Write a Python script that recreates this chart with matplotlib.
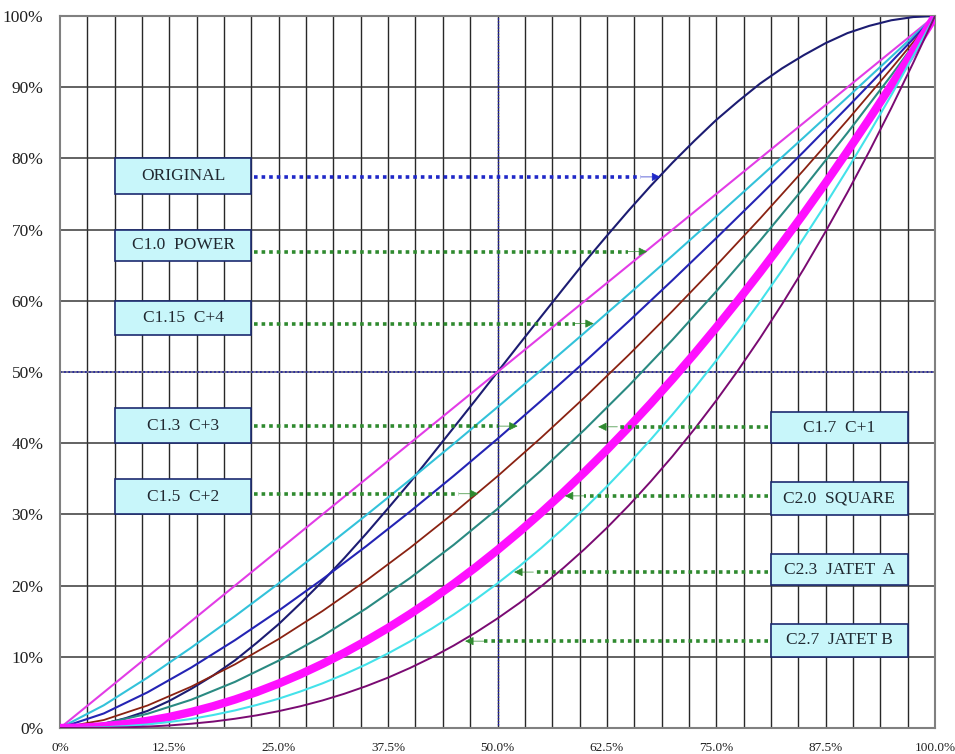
import matplotlib
matplotlib.use("Agg")
import matplotlib.pyplot as plt
from matplotlib.patches import Rectangle

# ---- data (percent) ----
x_pct = [0, 5, 10, 15, 20, 25, 30, 35, 40, 45, 50, 55, 60, 65, 70, 75, 80, 85, 90, 95, 100]
x_fine = [0, 2.5, 5, 7.5, 10, 12.5, 15, 17.5, 20, 22.5, 25, 27.5, 30, 32.5, 35, 37.5, 40, 42.5,
          45, 47.5, 50, 52.5, 55, 57.5, 60, 62.5, 65, 67.5, 70, 72.5, 75, 77.5, 80, 82.5, 85,
          87.5, 90, 92.5, 95, 97.5, 100]

original = [0, 0.15, 0.6, 1.38, 2.4, 3.81, 5.5, 7.37, 9.5, 11.98, 14.6, 17.53, 20.6, 23.87, 27.3,
            30.87, 34.5, 38.33, 42.2, 46.08, 50, 53.92, 57.8, 61.67, 65.5, 69.13, 72.7, 76.13,
            79.4, 82.47, 85.4, 88.02, 90.5, 92.63, 94.5, 96.19, 97.6, 98.62, 99.4, 99.85, 100]
c1_0 = [0, 5, 10, 15, 20, 25, 30, 35, 40, 45, 50, 55, 60, 65, 70, 75, 80, 85, 90, 95, 100]
c1_15 = [0, 3.19, 7.08, 11.29, 15.71, 20.31, 25.04, 29.90, 34.86, 39.92, 45.07, 50.28, 55.57, 60.93, 66.35, 71.84, 77.37, 82.95, 88.59, 94.27, 100]
c1_3 = [0, 2.04, 5.01, 8.49, 12.34, 16.49, 20.90, 25.54, 30.39, 35.42, 40.61, 45.97, 51.47, 57.12, 62.90, 68.80, 74.82, 80.95, 87.20, 93.55, 100]
c1_5 = [0, 1.12, 3.16, 5.81, 8.94, 12.5, 16.43, 20.71, 25.30, 30.19, 35.36, 40.79, 46.48, 52.40, 58.57, 64.95, 71.55, 78.37, 85.38, 92.60, 100]
c1_7 = [0, 0.61, 2.00, 3.97, 6.48, 9.47, 12.92, 16.79, 21.06, 25.73, 30.78, 36.19, 41.96, 48.07, 54.53, 61.32, 68.43, 75.86, 83.60, 91.65, 100]
c2_0 = [0, 0.06, 0.25, 0.56, 1, 1.56, 2.25, 3.06, 4, 5.06, 6.25, 7.56, 9, 10.56, 12.25, 14.06, 16,
        18.06, 20.25, 22.56, 25, 27.56, 30.25, 33.06, 36, 39.06, 42.25, 45.56, 49, 52.56, 56.25,
        60.06, 64, 68.06, 72.25, 76.56, 81, 85.56, 90.25, 95.06, 100]
c2_3 = [0, 0.02, 0.10, 0.26, 0.50, 0.84, 1.27, 1.82, 2.47, 3.24, 4.12, 5.14, 6.27, 7.54, 8.94,
        10.48, 12.16, 13.97, 15.94, 18.05, 20.31, 22.72, 25.28, 28.00, 30.88, 33.92, 37.13, 40.50,
        44.03, 47.72, 51.60, 55.64, 59.86, 64.24, 68.81, 73.56, 78.48, 83.58, 88.87, 94.35, 100]
c2_7 = [0, 0.005, 0.03, 0.09, 0.20, 0.36, 0.60, 0.90, 1.30, 1.78, 2.37, 3.06, 3.87, 4.81, 5.88,
        7.08, 8.43, 9.92, 11.58, 13.40, 15.39, 17.55, 19.90, 22.44, 25.18, 28.11, 31.25, 34.61,
        38.17, 41.97, 45.99, 50.25, 54.75, 59.49, 64.48, 69.74, 75.24, 81.01, 87.06, 93.40, 100]

series_names = ["ORIGINAL", "C1.0  POWER", "C1.15  C+4", "C1.3  C+3", "C1.5  C+2",
                "C1.7  C+1", "C2.0  SQUARE", "C2.3  JATET  A", "C2.7  JATET B"]
series_x = [x_fine, x_pct, x_pct, x_pct, x_pct, x_pct, x_fine, x_fine, x_fine]
series_values = [original, c1_0, c1_15, c1_3, c1_5, c1_7, c2_0, c2_3, c2_7]

x_tick_vals = [0, 12.5, 25, 37.5, 50, 62.5, 75, 87.5, 100]
x_tick_labels = ["0%", "12.5%", "25.0%", "37.5%", "50.0%", "62.5%", "75.0%", "87.5%", "100.0%"]
y_tick_vals = [0, 10, 20, 30, 40, 50, 60, 70, 80, 90, 100]
y_tick_labels = ["0%", "10%", "20%", "30%", "40%", "50%", "60%", "70%", "80%", "90%", "100%"]

# ---- styles ----
colors = ["#1c1c72", "#e23ce6", "#33c2da", "#2424b4", "#8a2212", "#2a8a82", "#ff10ff", "#44e2ea", "#7a0a72"]
widths = [1.5, 1.5, 1.5, 1.5, 1.3, 1.5, 6.0, 1.5, 1.4]

# label boxes: (x0, x1, y0, y1) in data percent, arrow y, arrow tip x, side
boxes = [
    (6.25, 21.875, 75.0, 80.0, 77.4, 68.6, "L"),
    (6.25, 21.875, 65.6, 70.0, 66.9, 67.1, "L"),
    (6.25, 21.875, 55.2, 60.0, 56.8, 61.0, "L"),
    (6.25, 21.875, 40.0, 44.9, 42.4, 52.3, "L"),
    (6.25, 21.875, 30.0, 35.0, 32.9, 47.8, "L"),
    (81.25, 96.875, 40.0, 44.4, 42.3, 61.5, "R"),
    (81.25, 96.875, 29.9, 34.5, 32.6, 57.7, "R"),
    (81.25, 96.875, 20.1, 24.4, 21.9, 51.9, "R"),
    (81.25, 96.875, 10.0, 14.6, 12.2, 46.3, "R"),
]

fig = plt.figure(figsize=(9.55, 7.54), dpi=100)
ax = fig.add_axes([60 / 955, 1 - 728 / 754, 875 / 955, 712 / 754])
ax.set_xlim(0, 100)
ax.set_ylim(0, 100)

# grid
for i in range(1, 32):
    gx = i * 3.125
    ax.axvline(gx, color="#282828", lw=1.0, zorder=1)
for gy in range(10, 100, 10):
    ax.axhline(gy, color="#383838", lw=1.1, zorder=1)
# dotted center lines
ax.axhline(50, color="#7a7a9a", lw=1.2, zorder=1.5)
ax.axhline(50, color="#2020a0", lw=1.2, ls=(0, (1, 1.5)), zorder=1.6)
ax.axvline(50, color="#2020c0", lw=1.0, ls=(0, (1, 1.2)), zorder=1.6)

for xs, vals, c, w in zip(series_x, series_values, colors, widths):
    ax.plot(xs, vals, color=c, lw=w, zorder=3, solid_capstyle="round",
            solid_joinstyle="round")

# label boxes and arrows
for (x0, x1, y0, y1, ay, tipx, side), name in zip(boxes, series_names):
    ax.add_patch(Rectangle((x0, y0), x1 - x0, y1 - y0, facecolor="#c8f6fa",
                           edgecolor="#1c2a70", lw=1.2, zorder=5))
    ax.text((x0 + x1) / 2, (y0 + y1) / 2, name, ha="center", va="center",
            fontsize=12.5, family="Liberation Serif", color="#202830", zorder=6)
    acol = "#1f28c8" if name == "ORIGINAL" else "#2f8a2f"
    if side == "L":
        start = x1 + 0.3
        head_from = tipx - 2.2
    else:
        start = x0 - 0.3
        head_from = tipx + 2.2
    ax.plot([start, head_from], [ay, ay], color=acol, lw=2.6,
            ls=(0, (1, 1.1)), zorder=4, dash_capstyle="butt")
    ax.annotate("", xy=(tipx, ay), xytext=(head_from, ay),
                arrowprops=dict(arrowstyle="-|>", color=acol, lw=0.5,
                                mutation_scale=13, shrinkA=0, shrinkB=0),
                zorder=4)

# axes styling
for s in ax.spines.values():
    s.set_color("#808080")
    s.set_linewidth(1.5)
ax.set_xticks(x_tick_vals)
ax.set_xticklabels(x_tick_labels, family="Liberation Serif", fontsize=9.5, color="#202020")
ax.set_yticks(y_tick_vals)
ax.set_yticklabels(y_tick_labels, family="Liberation Serif", fontsize=12.5, color="#202020")
ax.tick_params(axis="x", length=0, pad=10)
ax.tick_params(axis="y", length=0, pad=12)

fig.savefig("out.png", dpi=100)
